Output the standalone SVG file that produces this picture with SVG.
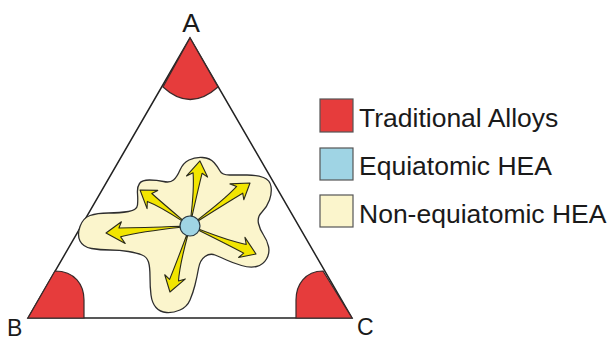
<svg xmlns="http://www.w3.org/2000/svg" width="615" height="340" viewBox="0 0 615 340">
<style>
.lbl{font-family:"Liberation Sans",Arial,sans-serif;font-size:26.5px;fill:#1a1a1a}
.red{fill:#e63c3c;stroke:#3a2a2a;stroke-width:1.2}
.arrow{fill:#f2e500;stroke:#2a2a1a;stroke-width:1.1;stroke-linejoin:round}
.sq{stroke:#555;stroke-width:1.2}
</style>
<rect width="615" height="340" fill="#ffffff"/>
<g id="triangle">
<polygon points="190,38 28,318 352,318" fill="none" stroke="#222" stroke-width="1.5" stroke-linejoin="miter"/>
</g>
<g id="corner-A"><path class="red" d="M190,38 L163,87 Q190,112 218,87 Z"/></g>
<g id="corner-B"><path class="red" d="M28,318 L55,271 C75,271 84,285 84,300 L84,318 Z"/></g>
<g id="corner-C"><path class="red" d="M352,318 L323,271 C305,271 296,285 296,300 L296,318 Z"/></g>
<g id="non-equiatomic-region">
<path fill="#fbf5cc" stroke="#2e2e2e" stroke-width="1.3" d="M 80,241 Q 77,235 80,226.5 Q 83,218 90,215.5 Q 97,213 108.5,213 Q 120,213 128.5,211.5 Q 137,210 137.5,205 Q 138,200 137.5,193.5 Q 137,187 139.5,183.5 Q 142,180 149.5,180 Q 157,180 163.5,181.5 Q 170,183 173.5,180 Q 177,177 180,170 Q 183,163 189,160 Q 195,157 202.5,157.5 Q 210,158 214,162.5 Q 218,167 220,171 Q 222,175 229.5,175 Q 237,175 247,175 Q 257,175 263.5,177.5 Q 270,180 271,186.5 Q 272,193 269.5,200 Q 267,207 262,212 Q 257,217 258.5,223.5 Q 260,230 263.5,235 Q 267,240 268.5,246.5 Q 270,253 266.5,259 Q 263,265 256.5,266.5 Q 250,268 241.5,265.5 Q 233,263 226.5,260 Q 220,257 215,255 Q 210,253 205,256.5 Q 200,260 198.5,268.5 Q 197,277 195,285 Q 193,293 190,300 Q 187,307 180,310 Q 173,313 166.5,312.5 Q 160,312 156,307.5 Q 152,303 151,295 Q 150,287 150,277 Q 150,267 148.5,262 Q 147,257 142,255 Q 137,253 128.5,251.5 Q 120,250 110,250 Q 100,250 91.5,248.5 Q 83,247 80,241 Z"/>
</g>
<g id="connectors" transform="translate(190,226)">
<path class="arrow" transform="rotate(-81.3)" d="M9,-0.5 Q38,-1.5 53,-5 L49,-11 L65.8,0 L51,10 L54,4 Q38,2.5 9,0.5 Z"/>
<path class="arrow" transform="rotate(-35.6)" d="M9,-0.5 Q44,-1.5 61,-5 L57,-11 L73.8,0 L59,10 L62,4 Q44,2.5 9,0.5 Z"/>
<path class="arrow" transform="rotate(23)" d="M9,-0.5 Q43,-1.5 59,-5 L55,-11 L71.7,0 L57,10 L60,4 Q43,2.5 9,0.5 Z"/>
<path class="arrow" transform="rotate(106.9)" d="M9,-0.5 Q41,-1.5 56,-5 L52,-11 L69,0 L54,10 L57,4 Q41,2.5 9,0.5 Z"/>
<path class="arrow" transform="rotate(175.2)" d="M9,-0.5 Q50,-1.5 70,-5 L66,-12 L84.3,0 L68,10 L71,4 Q50,2.5 9,0.5 Z"/>
<path class="arrow" transform="rotate(-144.2)" d="M9,-0.5 Q36,-1.5 49,-5 L45,-11 L61.6,0 L47,10 L50,4 Q36,2.5 9,0.5 Z"/>
</g>
<g id="equiatomic-center"><circle cx="190" cy="226" r="10" fill="#9fd4e4" stroke="#2a3a44" stroke-width="1.2"/></g>
<g id="label-A"><text class="lbl" x="191" y="32" text-anchor="middle">A</text></g>
<g id="label-B"><text class="lbl" x="7" y="336" style="font-size:23px">B</text></g>
<g id="label-C"><text class="lbl" x="357" y="335" style="font-size:23px">C</text></g>
<g id="legend-traditional">
<rect class="sq" x="320" y="99" width="33" height="33" fill="#e63c3c"/>
<text class="lbl" x="359" y="127">Traditional Alloys</text>
</g>
<g id="legend-equiatomic">
<rect class="sq" x="320" y="148" width="33" height="32" fill="#9fd4e4"/>
<text class="lbl" x="359" y="175">Equiatomic HEA</text>
</g>
<g id="legend-nonequiatomic">
<rect class="sq" x="320" y="195" width="33" height="32" fill="#fbf5cc"/>
<text class="lbl" x="359" y="223">Non-equiatomic HEA</text>
</g>
</svg>
